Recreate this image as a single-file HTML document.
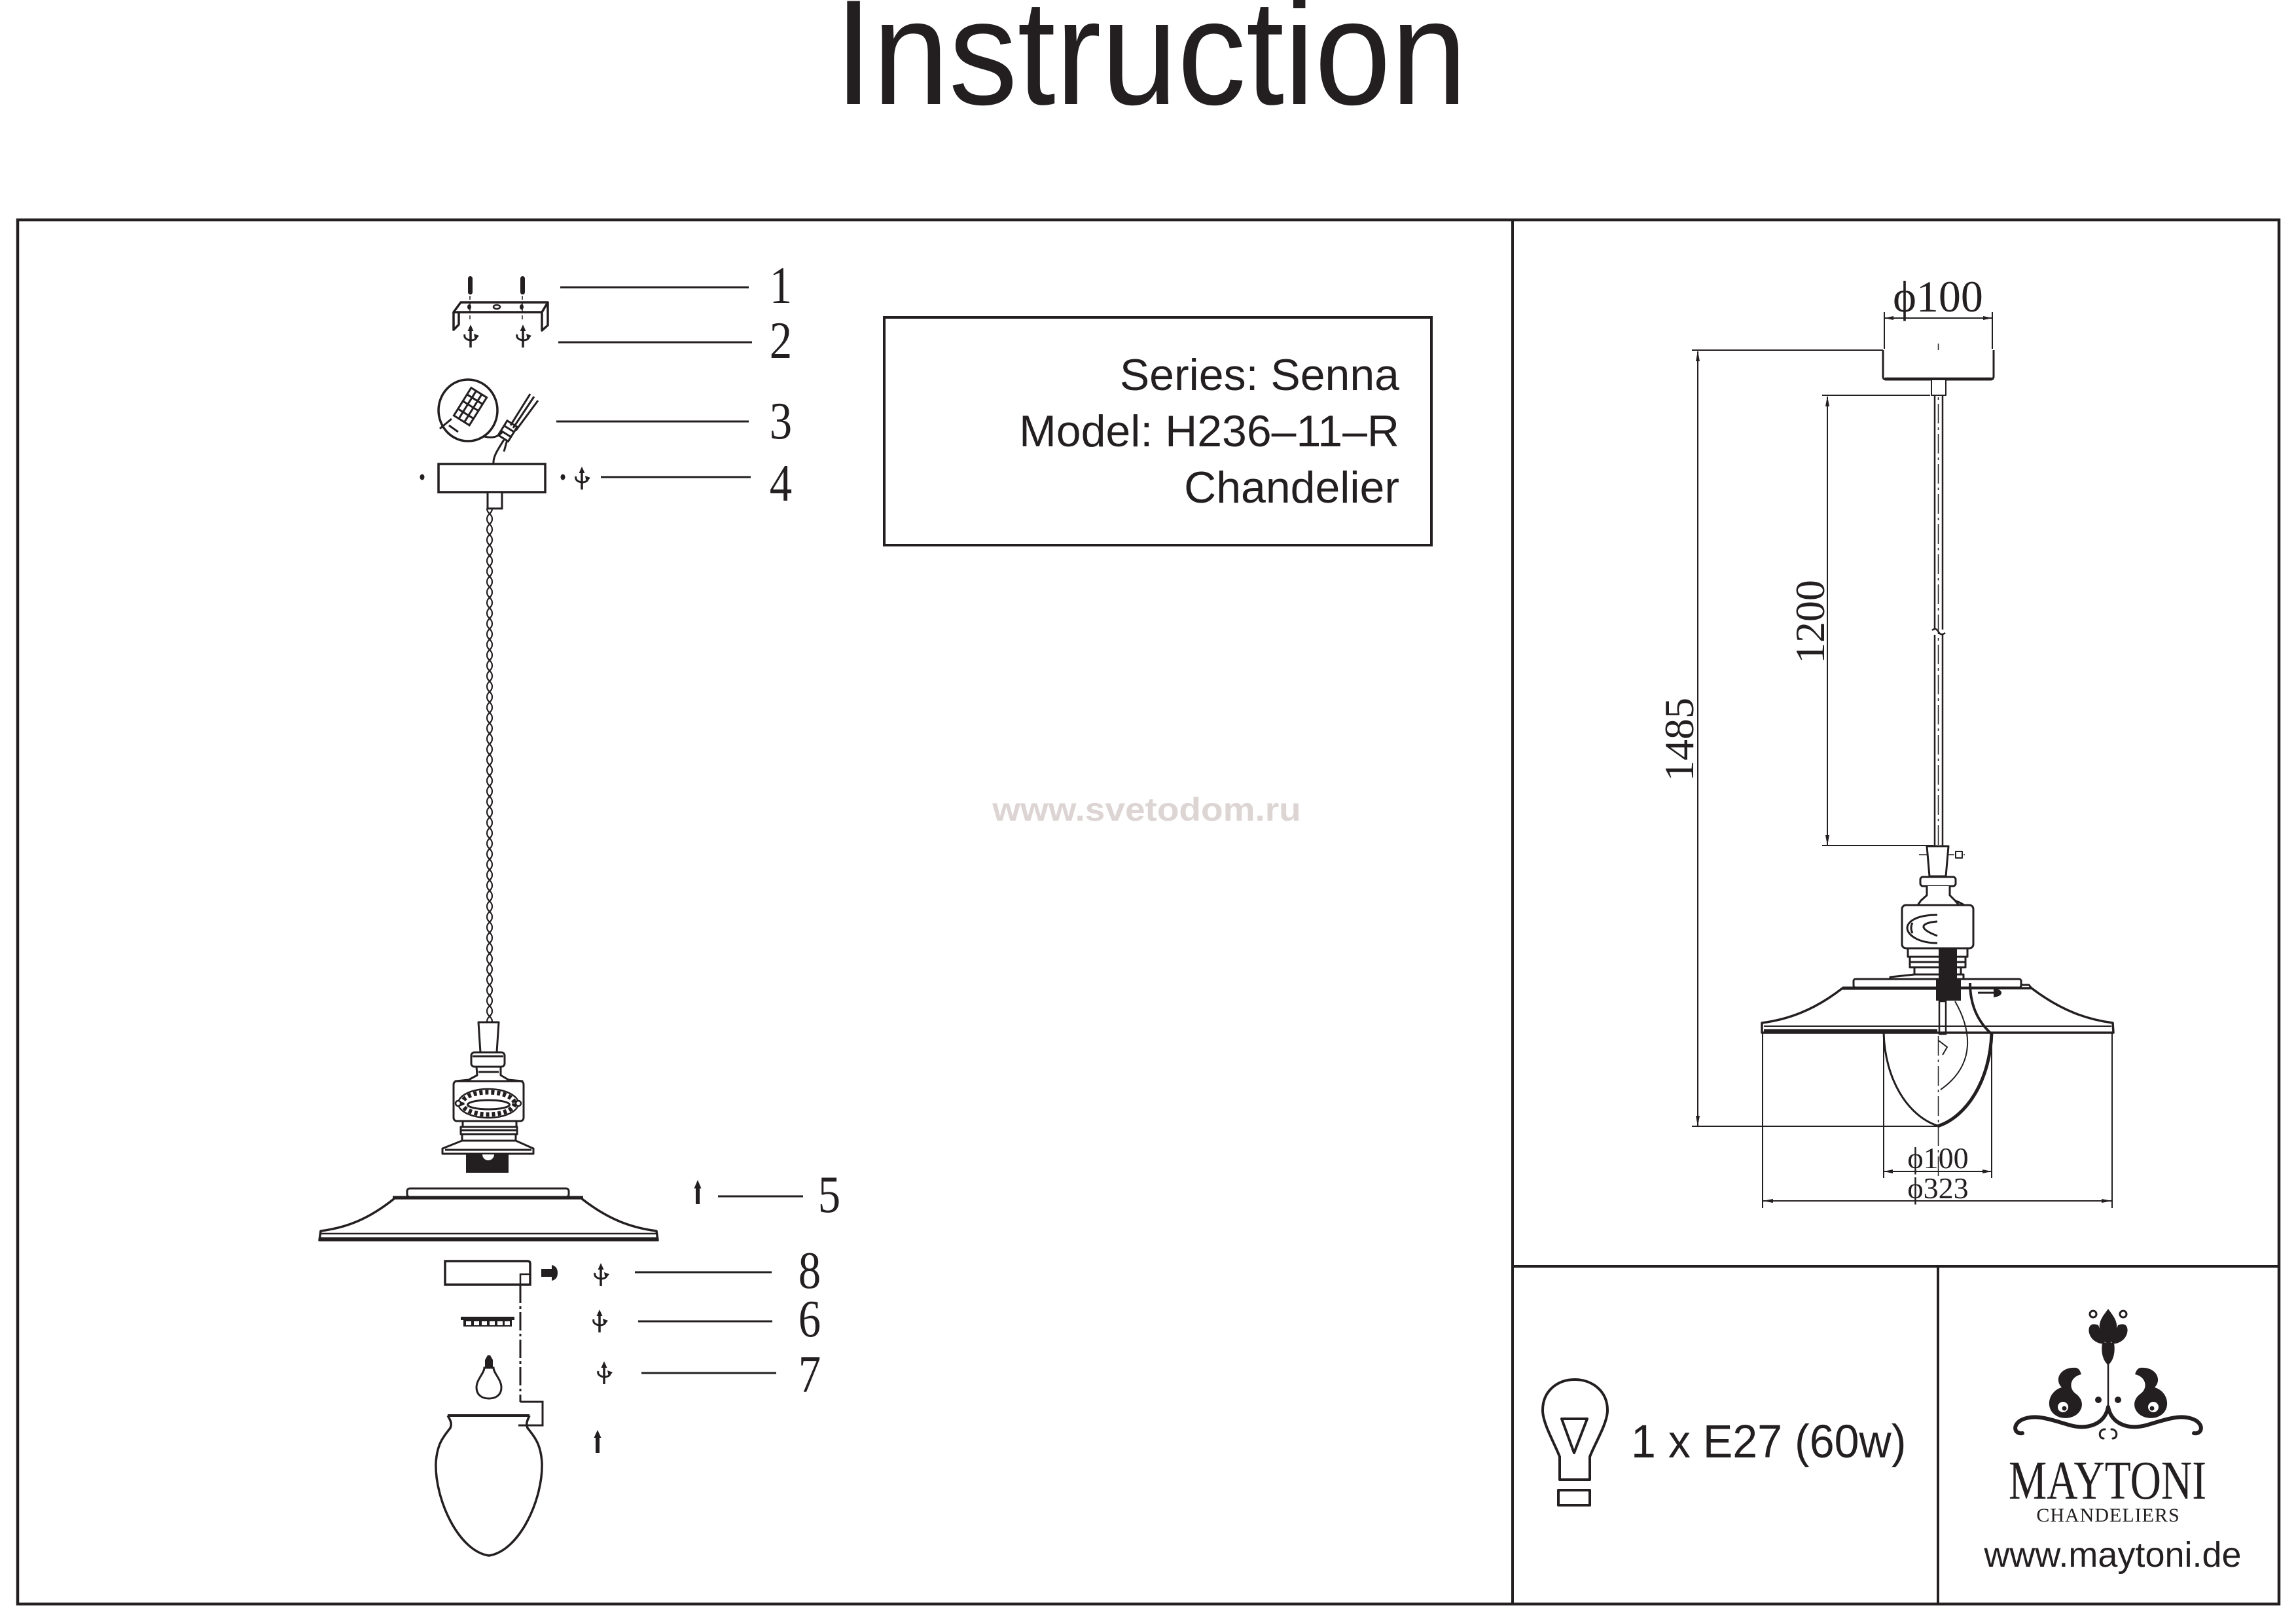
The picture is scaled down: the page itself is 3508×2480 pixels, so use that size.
<!DOCTYPE html>
<html>
<head>
<meta charset="utf-8">
<style>
  html, body { margin:0; padding:0; background:#fff; }
  svg { display:block; }
</style>
</head>
<body>
<svg xmlns="http://www.w3.org/2000/svg" width="3508" height="2480" viewBox="0 0 3508 2480">
  <defs>
    <pattern id="twist" patternUnits="userSpaceOnUse" x="741" y="777" width="14" height="32">
      <path d="M3,0 C3,8 11,8 11,16 C11,24 3,24 3,32" stroke="#231f20" stroke-width="2.2" fill="none"/>
      <path d="M11,0 C11,8 3,8 3,16 C3,24 11,24 11,32" stroke="#231f20" stroke-width="2.2" fill="none"/>
    </pattern>
    <g id="rot">
      <path d="M0,-14 V17" stroke="#231f20" stroke-width="3.5" fill="none"/>
      <path d="M-4.5,-8 L0,-18 L4.5,-8 Z" fill="#231f20"/>
      <path d="M-9,-3 C-12,7 8,9 9,1" stroke="#231f20" stroke-width="3" fill="none"/>
      <path d="M5,-4 L13,-1 L7,6 Z" fill="#231f20"/>
    </g>
  </defs>

  <rect width="3508" height="2480" fill="#fff"/>

  <!-- Title -->
  <text transform="translate(1275,159) scale(0.915,1)" font-family="Liberation Sans, Arial, sans-serif" font-size="229" fill="#231f20">Instruction</text>

  <!-- Frame -->
  <g stroke="#231f20" fill="none">
    <rect x="27" y="336" width="3455" height="2115" stroke-width="4.5"/>
    <line x1="2311" y1="336" x2="2311" y2="2451" stroke-width="4"/>
    <line x1="2311" y1="1935" x2="3482" y2="1935" stroke-width="4"/>
    <line x1="2961" y1="1935" x2="2961" y2="2451" stroke-width="4"/>
    <rect x="1351" y="485" width="836" height="348" stroke-width="4"/>
  </g>

  <!-- Info text -->
  <g font-family="Liberation Sans, Arial, sans-serif" font-size="68" fill="#231f20" text-anchor="end">
    <text x="2138" y="596">Series: Senna</text>
    <text x="2138" y="682">Model: H236–11–R</text>
    <text x="2138" y="768">Chandelier</text>
  </g>

  <!-- Watermark -->
  <text transform="translate(1752,1254) scale(1.1,1)" text-anchor="middle" font-family="Liberation Sans, Arial, sans-serif" font-weight="bold" font-size="50" fill="#ddd4d4">www.svetodom.ru</text>

  <!-- ============ LEFT EXPLODED DRAWING ============ -->
  <g stroke="#231f20" fill="none" stroke-linejoin="round">
    <rect x="715" y="422" width="7" height="28" rx="3.5" fill="#231f20" stroke="none"/>
    <rect x="795" y="422" width="7" height="28" rx="3.5" fill="#231f20" stroke="none"/>
    <polygon points="704,462 837,462 828,477 693,477" stroke-width="3.5" fill="#fff"/>
    <path d="M693,477 V504 L701,496 V477" stroke-width="3.5"/>
    <path d="M837,462 V497 L828,505 V477" stroke-width="3.5"/>
    <ellipse cx="717" cy="469" rx="3" ry="4" fill="#231f20" stroke="none"/>
    <ellipse cx="759" cy="469" rx="5" ry="3" stroke-width="2.5"/>
    <ellipse cx="797" cy="469" rx="3" ry="4" fill="#231f20" stroke="none"/>
    <line x1="718" y1="452" x2="718" y2="490" stroke-width="1.5" stroke-dasharray="6 4"/>
    <line x1="798" y1="452" x2="798" y2="490" stroke-width="1.5" stroke-dasharray="6 4"/>
  </g>
  <use href="#rot" x="719" y="514"/>
  <use href="#rot" x="799" y="514"/>

  <!-- connector 3 -->
  <g stroke="#231f20" fill="none" stroke-width="3">
    <ellipse cx="715" cy="627" rx="45" ry="47" stroke-width="3.5"/>
    <g transform="rotate(-58,718,622)">
      <rect x="694" y="608" width="50" height="28"/>
      <line x1="694" y1="617" x2="744" y2="617"/>
      <line x1="694" y1="627" x2="744" y2="627"/>
      <line x1="706" y1="608" x2="706" y2="636"/>
      <line x1="720" y1="608" x2="720" y2="636"/>
      <line x1="732" y1="608" x2="732" y2="636"/>
    </g>
    <path d="M686,650 L700,660"/>
    <path d="M690,640 L672,655"/>
    <path d="M740,667 C752,670 760,668 768,660"/>
    <g transform="rotate(-58,776,660)">
      <rect x="764" y="650" width="26" height="18"/>
      <line x1="772" y1="650" x2="772" y2="668"/>
      <line x1="781" y1="650" x2="781" y2="668"/>
    </g>
    <path d="M780,650 L810,602"/>
    <path d="M784,654 L816,606"/>
    <path d="M788,658 L822,612"/>
    <path d="M770,672 C760,688 753,698 754,709"/>
    <path d="M775,672 L770,690"/>
  </g>

  <!-- canopy 4 -->
  <g stroke="#231f20" fill="none">
    <rect x="670" y="709" width="163" height="43" stroke-width="3.5" fill="#fff"/>
    <rect x="745" y="752" width="22" height="25" stroke-width="3" fill="#fff"/>
  </g>
  <ellipse cx="645" cy="729" rx="3.5" ry="4.5" fill="#231f20"/>
  <ellipse cx="860" cy="729" rx="3.5" ry="4.5" fill="#231f20"/>
  <use href="#rot" x="889" y="731"/>

  <!-- cord -->
  <rect x="741" y="777" width="14" height="785" fill="url(#twist)"/>

  <!-- holder (left) -->
  <g stroke="#231f20" fill="#fff" stroke-width="3" stroke-linejoin="round">
    <path d="M731,1562 L762,1562 L759,1608 L734,1608 Z"/>
    <rect x="720" y="1608" width="51" height="22" rx="5"/>
    <line x1="722" y1="1614" x2="769" y2="1614"/>
    <path d="M728,1630 L729,1643 L716,1650 L696,1652 L798,1652 L777,1650 L765,1643 L765,1630 Z"/>
    <line x1="731" y1="1638" x2="762" y2="1638"/>
    <rect x="693" y="1652" width="107" height="61" rx="5"/>
    <ellipse cx="746" cy="1686" rx="46" ry="22" stroke-width="2.5"/>
    <ellipse cx="746" cy="1686" rx="40" ry="17" stroke-width="7" stroke-dasharray="5 4" fill="none"/>
    <ellipse cx="746.5" cy="1688" rx="32" ry="7" stroke-width="3"/>
    <circle cx="700" cy="1686" r="4" stroke-width="2.5"/>
    <circle cx="792" cy="1686" r="4" stroke-width="2.5"/>
    <rect x="707" y="1713" width="82" height="9"/>
    <rect x="704" y="1722" width="86" height="11"/>
    <line x1="704" y1="1727" x2="790" y2="1727"/>
    <rect x="706" y="1733" width="82" height="10"/>
    <path d="M706,1743 L788,1743 L815,1755 L815,1763 L676,1763 L676,1755 Z"/>
    <line x1="680" y1="1757" x2="812" y2="1757"/>
  </g>
  <rect x="712" y="1763" width="65" height="29" fill="#231f20"/>
  <path d="M737,1764 A9,9 0 0 0 755,1764 Z" fill="#fff"/>

  <!-- shade (left) -->
  <g stroke="#231f20" fill="#fff" stroke-linejoin="round">
    <rect x="622" y="1816" width="247" height="13" rx="4" stroke-width="3"/>
    <path d="M603,1831 H888 C930,1864 965,1876 1003,1881 L1005,1895 H488 L490,1881 C528,1876 562,1864 603,1831 Z" stroke-width="3.5"/>
    <line x1="600" y1="1830" x2="891" y2="1830" stroke-width="5"/>
    <line x1="490" y1="1885" x2="1003" y2="1885" stroke-width="2.5"/>
    <line x1="490" y1="1893" x2="1003" y2="1893" stroke-width="5"/>
  </g>

  <!-- part 5 arrow -->
  <rect x="1063" y="1813" width="6" height="27" fill="#231f20"/>
  <path d="M1066,1803 L1060.5,1816 L1071.5,1816 Z" fill="#231f20"/>

  <!-- part 8 -->
  <g stroke="#231f20" fill="#fff" stroke-width="3.5">
    <path d="M680,1927 H806 Q810,1927 810,1931 V1963 H680 Z"/>
    <path d="M795,1963 V1947 H810" fill="none" stroke-width="2.5"/>
  </g>
  <rect x="827" y="1939" width="16" height="12" fill="#231f20"/>
  <path d="M843,1933 Q852,1935 852,1945 Q852,1955 843,1957 Z" fill="#231f20"/>
  <use href="#rot" x="918" y="1948"/>

  <!-- dashed connector line -->
  <g stroke="#231f20" fill="none" stroke-width="3">
    <line x1="795" y1="1963" x2="795" y2="2142" stroke-dasharray="28 5 4 5"/>
    <path d="M795,2142 H829 V2178 H792"/>
  </g>

  <!-- ring 6 -->
  <rect x="704" y="2012" width="82" height="5" fill="#231f20"/>
  <rect x="708" y="2017" width="74" height="10" fill="#231f20"/>
  <g fill="#fff">
    <rect x="712" y="2019" width="8" height="6"/>
    <rect x="724" y="2019" width="8" height="6"/>
    <rect x="736" y="2019" width="8" height="6"/>
    <rect x="748" y="2019" width="8" height="6"/>
    <rect x="760" y="2019" width="8" height="6"/>
    <rect x="771" y="2019" width="8" height="6"/>
  </g>
  <use href="#rot" x="916" y="2019"/>

  <!-- bulb 7 -->
  <path d="M741,2090 H753 V2078 L749,2071 H745 L741,2078 Z" fill="#231f20"/>
  <path d="M740,2090 C740,2098 728,2108 728,2120 C728,2132 737,2137 747,2137 C757,2137 766,2132 766,2120 C766,2108 754,2098 754,2090 Z" stroke="#231f20" stroke-width="3" fill="#fff"/>
  <use href="#rot" x="923" y="2098"/>

  <!-- glass shade -->
  <path d="M684,2163 C688,2170 691,2175 688,2182 C678,2195 668,2205 666,2235 C664,2290 700,2370 747,2377 C794,2370 830,2290 828,2235 C826,2205 816,2195 806,2182 C803,2175 806,2170 809,2163" stroke="#231f20" stroke-width="3.5" fill="none"/>
  <line x1="684" y1="2163" x2="809" y2="2163" stroke="#231f20" stroke-width="4"/>
  <rect x="910" y="2195" width="6" height="25" fill="#231f20"/>
  <path d="M913,2185 L907.5,2197 L918.5,2197 Z" fill="#231f20"/>

  <!-- leader lines -->
  <g stroke="#231f20" stroke-width="3">
    <line x1="856" y1="439" x2="1144" y2="439"/>
    <line x1="853" y1="523" x2="1149" y2="523"/>
    <line x1="850" y1="644" x2="1144" y2="644"/>
    <line x1="918" y1="729" x2="1147" y2="729"/>
    <line x1="1097" y1="1828" x2="1227" y2="1828"/>
    <line x1="970" y1="1944" x2="1179" y2="1944"/>
    <line x1="975" y1="2019" x2="1180" y2="2019"/>
    <line x1="980" y1="2098" x2="1186" y2="2098"/>
  </g>

  <!-- part numbers -->
  <g font-family="Liberation Serif, Times New Roman, serif" font-size="81" fill="#231f20" text-anchor="middle">
    <text transform="translate(1193,463) scale(0.85,1)">1</text>
    <text transform="translate(1193,547) scale(0.85,1)">2</text>
    <text transform="translate(1193,670) scale(0.85,1)">3</text>
    <text transform="translate(1193,765) scale(0.85,1)">4</text>
    <text transform="translate(1267,1852) scale(0.85,1)">5</text>
    <text transform="translate(1237,1968) scale(0.85,1)">8</text>
    <text transform="translate(1237,2042) scale(0.85,1)">6</text>
    <text transform="translate(1237,2127) scale(0.85,1)">7</text>
  </g>

  <!-- ============ RIGHT DIMENSION DRAWING ============ -->
  <g stroke="#231f20" fill="none">
    <line x1="2585" y1="535" x2="2877" y2="535" stroke-width="2"/>
    <line x1="2879" y1="477" x2="2879" y2="533" stroke-width="2"/>
    <line x1="3044" y1="477" x2="3044" y2="533" stroke-width="2"/>
    <line x1="2879" y1="486" x2="3044" y2="486" stroke-width="2"/>
    <line x1="2784" y1="604" x2="2949" y2="604" stroke-width="2"/>
    <line x1="2784" y1="1292" x2="2954" y2="1292" stroke-width="2"/>
    <line x1="2585" y1="1721" x2="2960" y2="1721" stroke-width="2"/>
    <line x1="2594" y1="537" x2="2594" y2="1720" stroke-width="2"/>
    <line x1="2792" y1="606" x2="2792" y2="1291" stroke-width="2"/>
    <line x1="2878" y1="1580" x2="2878" y2="1800" stroke-width="2"/>
    <line x1="3043" y1="1580" x2="3043" y2="1800" stroke-width="2"/>
    <line x1="2878" y1="1790" x2="3043" y2="1790" stroke-width="2"/>
    <line x1="2693" y1="1570" x2="2693" y2="1846" stroke-width="2"/>
    <line x1="3227" y1="1570" x2="3227" y2="1846" stroke-width="2"/>
    <line x1="2693" y1="1835" x2="3227" y2="1835" stroke-width="2"/>
    <line x1="2961.5" y1="525" x2="2961.5" y2="1800" stroke-width="1.5" stroke-dasharray="30 6 4 6"/>
    <line x1="2932" y1="1306" x2="3002" y2="1306" stroke-width="1.5" stroke-dasharray="20 5 4 5"/>
  </g>
  <g fill="#231f20">
    <path d="M2879,486 L2893,483 L2893,489 Z"/>
    <path d="M3044,486 L3030,483 L3030,489 Z"/>
    <path d="M2594,536 L2591,552 L2597,552 Z"/>
    <path d="M2594,1721 L2591,1705 L2597,1705 Z"/>
    <path d="M2792,605 L2789,621 L2795,621 Z"/>
    <path d="M2792,1292 L2789,1276 L2795,1276 Z"/>
    <path d="M2878,1790 L2892,1787 L2892,1793 Z"/>
    <path d="M3043,1790 L3029,1787 L3029,1793 Z"/>
    <path d="M2693,1835 L2709,1832 L2709,1838 Z"/>
    <path d="M3227,1835 L3211,1832 L3211,1838 Z"/>
  </g>

  <!-- canopy right -->
  <g stroke="#231f20" fill="#fff" stroke-linejoin="round">
    <path d="M2877,535 V575 Q2877,580 2882,580 H3041 Q3046,580 3046,575 V535" stroke-width="3"/>
    <line x1="2880" y1="579" x2="3043" y2="579" stroke-width="4.5"/>
    <rect x="2951" y="580" width="22" height="24" stroke-width="2"/>
  </g>
  <g stroke="#231f20" stroke-width="2.5" fill="none">
    <path d="M2956,604 V962 M2956,970 V1293"/>
    <path d="M2968,604 V962 M2968,970 V1293"/>
    <path d="M2952,963 Q2958,958 2962,966 Q2966,972 2972,967"/>
  </g>

  <!-- holder right -->
  <g stroke="#231f20" fill="#fff" stroke-width="3" stroke-linejoin="round">
    <path d="M2944,1293 L2977,1293 L2973,1339 L2948,1339 Z"/>
    <rect x="2988" y="1301" width="10" height="10" stroke-width="2"/>
    <rect x="2934" y="1340" width="54" height="14" rx="4"/>
    <path d="M2944,1354 L2944,1368 L2935,1376 L2930,1383 L2993,1383 L2987,1376 L2979,1368 L2979,1354"/>
    <path d="M2987,1376 L2996,1380 L3003,1384" fill="none"/>
    <rect x="2906" y="1383" width="109" height="66" rx="6"/>
    <path d="M2960,1398 C2925,1398 2914,1410 2914,1418 C2914,1428 2930,1441 2960,1441" fill="none"/>
    <path d="M2960,1408 C2936,1410 2928,1418 2960,1430" fill="none"/>
    <path d="M2922,1410 Q2918,1418 2922,1426" fill="none"/>
    <rect x="2915" y="1449" width="91" height="13"/>
    <rect x="2918" y="1462" width="85" height="16"/>
    <line x1="2918" y1="1470" x2="3003" y2="1470"/>
    <rect x="2925" y="1478" width="71" height="11"/>
    <path d="M2925,1489 L2888,1493 L2888,1498 L3000,1498 L3000,1489 Z"/>
    <rect x="2832" y="1496" width="256" height="13" rx="3"/>
    <path d="M3088,1505 H3100 L3104,1510"/>
    <path d="M2815,1510 H3104 C3150,1545 3190,1558 3228,1563 L3229,1578 H2692 L2692,1563 C2730,1558 2770,1545 2815,1510 Z" stroke-width="3.5"/>
    <line x1="2815" y1="1510" x2="2960" y2="1510" stroke-width="5"/>
    <line x1="2695" y1="1568" x2="3226" y2="1568" stroke-width="2"/>
    <line x1="2695" y1="1575" x2="2960" y2="1575" stroke-width="5"/>
  </g>
  <rect x="2962" y="1450" width="28" height="78" fill="#231f20"/>
  <rect x="2958" y="1497" width="38" height="32" fill="#231f20"/>
  <rect x="2963" y="1530" width="10" height="50" fill="none" stroke="#231f20" stroke-width="2.5"/>
  <g stroke="#231f20" fill="none">
    <path d="M2878,1578 C2880,1650 2915,1705 2960,1720" stroke-width="3"/>
    <path d="M3043,1578 C3041,1650 3005,1707 2960,1721" stroke-width="5"/>
    <path d="M3010,1502 C3010,1525 3015,1555 3043,1580" stroke-width="4"/>
    <path d="M2987,1530 C3010,1570 3022,1625 2965,1665" stroke-width="2"/>
    <line x1="3022" y1="1517" x2="3048" y2="1517" stroke-width="3"/>
    <path d="M2962,1590 L2975,1600 L2968,1612" stroke-width="2"/>
  </g>
  <path d="M3046,1510 Q3058,1512 3058,1517 Q3058,1522 3046,1524 Z" fill="#231f20"/>

  <!-- dimension texts -->
  <g font-family="Liberation Serif, DejaVu Serif, serif" fill="#231f20" text-anchor="middle">
    <text x="2961" y="476" font-size="68">ϕ100</text>
    <text transform="translate(2587,1130) rotate(-90)" font-size="64">1485</text>
    <text transform="translate(2787,950) rotate(-90)" font-size="64">1200</text>
    <text x="2961" y="1785" font-size="46">ϕ100</text>
    <text x="2961" y="1831" font-size="46">ϕ323</text>
  </g>

  <!-- ============ BULB SPEC ============ -->
  <g stroke="#231f20" fill="none" stroke-width="4" stroke-linejoin="round">
    <path d="M2383,2261 V2226 C2375,2205 2357,2175 2357,2155 C2357,2125 2380,2108 2406,2108 C2432,2108 2456,2125 2456,2155 C2456,2175 2437,2205 2429,2226 V2261 Z"/>
    <path d="M2386,2168 H2425 L2405,2220 Z"/>
    <rect x="2381" y="2277" width="48" height="23"/>
  </g>
  <text transform="translate(2492,2227) scale(0.96,1)" font-family="Liberation Sans, Arial, sans-serif" font-size="71" fill="#231f20">1 x E27 (60w)</text>

  <!-- ============ LOGO ============ -->
  <g fill="#231f20" stroke="none">
    <path d="M3221,2000 C3228,2010 3236,2018 3234,2032 C3232,2046 3226,2052 3221,2054 C3216,2052 3210,2046 3208,2032 C3206,2018 3214,2010 3221,2000 Z"/>
    <path d="M3206,2025 C3190,2018 3188,2035 3196,2045 C3202,2052 3212,2055 3216,2052 Z"/>
    <path d="M3236,2025 C3252,2018 3254,2035 3246,2045 C3240,2052 3230,2055 3226,2052 Z"/>
    <path d="M3212,2052 L3230,2052 C3232,2065 3230,2078 3221,2086 C3212,2078 3210,2065 3212,2052 Z"/>
    <path d="M3172,2090 C3148,2088 3138,2108 3150,2120 C3128,2126 3122,2158 3148,2166 C3176,2172 3192,2145 3172,2130 C3160,2122 3162,2104 3180,2100 C3178,2094 3176,2091 3172,2090 Z"/>
    <path transform="translate(6442,0) scale(-1,1)" d="M3172,2090 C3148,2088 3138,2108 3150,2120 C3128,2126 3122,2158 3148,2166 C3176,2172 3192,2145 3172,2130 C3160,2122 3162,2104 3180,2100 C3178,2094 3176,2091 3172,2090 Z"/>
    <circle cx="3206" cy="2139" r="5"/>
    <circle cx="3236" cy="2139" r="5"/>
  </g>
  <g fill="#fff">
    <circle cx="3152" cy="2150" r="8"/>
    <circle cx="3290" cy="2150" r="8"/>
  </g>
  <g fill="#231f20">
    <circle cx="3154" cy="2152" r="3.5"/>
    <circle cx="3288" cy="2152" r="3.5"/>
  </g>
  <g stroke="#231f20" fill="none" stroke-linecap="round">
    <line x1="3221" y1="2084" x2="3221" y2="2150" stroke-width="2.5"/>
    <circle cx="3198" cy="2008" r="5" stroke-width="3"/>
    <circle cx="3244" cy="2008" r="5" stroke-width="3"/>
    <path d="M3221,2150 C3216,2176 3190,2186 3160,2177 C3130,2168 3108,2160 3088,2170 C3074,2178 3078,2192 3090,2190" stroke-width="6"/>
    <path d="M3221,2150 C3226,2176 3252,2186 3282,2177 C3312,2168 3334,2160 3354,2170 C3368,2178 3364,2192 3352,2190" stroke-width="6"/>
    <path d="M3216,2184 C3206,2184 3206,2198 3214,2198" stroke-width="3"/>
    <path d="M3226,2184 C3236,2184 3236,2198 3228,2198" stroke-width="3"/>
  </g>
  <text transform="translate(3220,2290) scale(0.78,1)" text-anchor="middle" font-family="Liberation Serif, Times New Roman, serif" font-size="84" fill="#231f20">MAYTONI</text>
  <text x="3221" y="2325" text-anchor="middle" font-family="Liberation Serif, Times New Roman, serif" font-size="30" letter-spacing="1" fill="#231f20">CHANDELIERS</text>
  <text x="3228" y="2394" text-anchor="middle" font-family="Liberation Sans, Arial, sans-serif" font-size="54" fill="#231f20">www.maytoni.de</text>
</svg>
</body>
</html>
